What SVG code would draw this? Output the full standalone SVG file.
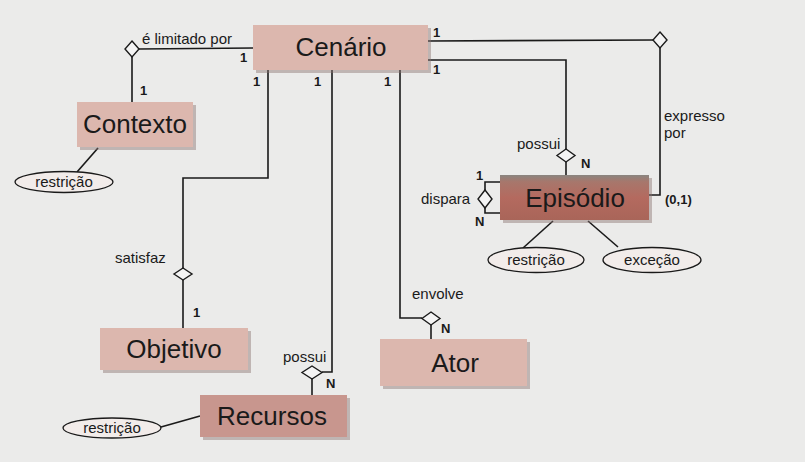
<svg xmlns="http://www.w3.org/2000/svg" width="805" height="462" viewBox="0 0 805 462">
<defs>
<style>
.bg{fill:#ebebea}
.box{fill:#dcb7ae;stroke:none}
.shadow{fill:#8a7470;opacity:0.45}
.lbl{font-family:"Liberation Sans",Arial,sans-serif;font-size:26px;fill:#1a1a1a;text-anchor:middle}
.rel{font-family:"Liberation Sans",Arial,sans-serif;font-size:15px;fill:#1a1a1a}
.card{font-family:"Liberation Sans",Arial,sans-serif;font-size:13px;font-weight:bold;fill:#1a1a1a}
.ln{fill:none;stroke:#1a1a1a;stroke-width:1.6}
.dia{fill:#f4f4f4;stroke:#1a1a1a;stroke-width:1.4}
.ell{fill:#f2ecea;stroke:#1a1a1a;stroke-width:1.3}
</style>
<linearGradient id="epi" x1="0" y1="0" x2="0" y2="1">
<stop offset="0" stop-color="#8a8580"/>
<stop offset="0.15" stop-color="#a7776c"/>
<stop offset="0.5" stop-color="#b46a5f"/>
<stop offset="1" stop-color="#a96559"/>
</linearGradient>
</defs>
<rect class="bg" x="0" y="0" width="805" height="462"/>

<g id="connectors">
<!-- é limitado por -->
<polyline class="ln" points="253,48 139,49"/>
<polygon class="dia" points="132,41 139,49 132,57 125,49"/>
<polyline class="ln" points="132,57 132,102"/>
<!-- expresso por -->
<polyline class="ln" points="428,41 653,40"/>
<polygon class="dia" points="660,32 667,40 660,48 653,40"/>
<polyline class="ln" points="660,48 660,195 648,195"/>
<!-- possui Episódio -->
<polyline class="ln" points="428,60 566,60 566,149"/>
<polygon class="dia" points="566,149 575,155.5 566,162 557,155.5"/>
<polyline class="ln" points="566,162 566,175"/>
<!-- dispara -->
<polyline class="ln" points="500,182 485,182 485,190"/>
<polygon class="dia" points="485,190 492,199 485,208 478,199"/>
<polyline class="ln" points="485,208 485,213 500,213"/>
<!-- Episódio attributes -->
<line class="ln" x1="553" y1="221" x2="523" y2="248"/>
<line class="ln" x1="588" y1="221" x2="618" y2="247"/>
<!-- satisfaz -->
<polyline class="ln" points="268,70 268,178 183,178 183,268"/>
<polygon class="dia" points="183,268 192,274 183,280 174,274"/>
<polyline class="ln" points="183,280 183,328"/>
<!-- possui Recursos -->
<polyline class="ln" points="332,70 332,372 322,372"/>
<polygon class="dia" points="312,366 322,372.5 312,379 302,372.5"/>
<polyline class="ln" points="312,379 312,395"/>
<!-- envolve -->
<polyline class="ln" points="400,70 400,318 422,318"/>
<polygon class="dia" points="431,312 440,318.5 431,325 422,318.5"/>
<polyline class="ln" points="431,325 431,339"/>
<!-- attribute lines -->
<line class="ln" x1="98" y1="148" x2="77" y2="172"/>
<line class="ln" x1="161" y1="427" x2="200" y2="416"/>

<text class="rel" x="142" y="44">é limitado por</text>
<text class="card" x="240" y="62">1</text>
<text class="card" x="140" y="95">1</text>
<text class="card" x="433" y="37">1</text>
<text class="card" x="433" y="74">1</text>
<text class="card" x="253" y="86">1</text>
<text class="card" x="314" y="86">1</text>
<text class="card" x="384" y="86">1</text>
<text class="rel" x="664" y="121">expresso</text>
<text class="rel" x="664" y="138">por</text>
<text class="card" x="665" y="204">(0,1)</text>
<text class="rel" x="517" y="149">possui</text>
<text class="card" x="581" y="168">N</text>
<text class="card" x="476" y="180">1</text>
<text class="card" x="475" y="226">N</text>
<text class="rel" x="421" y="204">dispara</text>
<text class="rel" x="115" y="263">satisfaz</text>
<text class="card" x="193" y="317">1</text>
<text class="rel" x="283" y="362">possui</text>
<text class="card" x="326" y="388">N</text>
<text class="rel" x="412" y="299">envolve</text>
<text class="card" x="441" y="333">N</text>
</g>

<g id="cenario">
<rect class="shadow" x="256" y="28" width="175" height="45"/>
<rect class="box" x="253" y="25" width="175" height="45"/>
<text class="lbl" x="341" y="56">Cenário</text>
</g>

<g id="contexto">
<rect class="shadow" x="80" y="105" width="116" height="45"/>
<rect class="box" x="77" y="102" width="116" height="45"/>
<text class="lbl" x="135" y="133">Contexto</text>
</g>

<g id="contexto-restricao">
<ellipse class="ell" cx="64" cy="182" rx="49" ry="10.5"/>
<text class="rel" x="64" y="187" text-anchor="middle">restrição</text>
</g>

<g id="episodio">
<rect class="shadow" x="503" y="178" width="149" height="45"/>
<rect x="500" y="175" width="149" height="45" fill="url(#epi)"/>
<text class="lbl" x="575" y="207">Episódio</text>
</g>

<g id="episodio-restricao">
<ellipse class="ell" cx="536" cy="260" rx="48" ry="12.5"/>
<text class="rel" x="536" y="265" text-anchor="middle">restrição</text>
</g>

<g id="excecao">
<ellipse class="ell" cx="652" cy="260" rx="49" ry="12.5"/>
<text class="rel" x="652" y="265" text-anchor="middle">exceção</text>
</g>

<g id="objetivo">
<rect class="shadow" x="103" y="331" width="148" height="42"/>
<rect class="box" x="100" y="328" width="148" height="42"/>
<text class="lbl" x="174" y="358">Objetivo</text>
</g>

<g id="recursos">
<rect class="shadow" x="203" y="398" width="147" height="42"/>
<rect x="200" y="395" width="147" height="42" fill="#c8968e"/>
<text class="lbl" x="272" y="425">Recursos</text>
</g>

<g id="recursos-restricao">
<ellipse class="ell" cx="112" cy="428" rx="49" ry="10"/>
<text class="rel" x="112" y="433" text-anchor="middle">restrição</text>
</g>

<g id="ator">
<rect class="shadow" x="383" y="342" width="147" height="47"/>
<rect class="box" x="380" y="339" width="147" height="47"/>
<text class="lbl" x="455" y="372">Ator</text>
</g>
</svg>
